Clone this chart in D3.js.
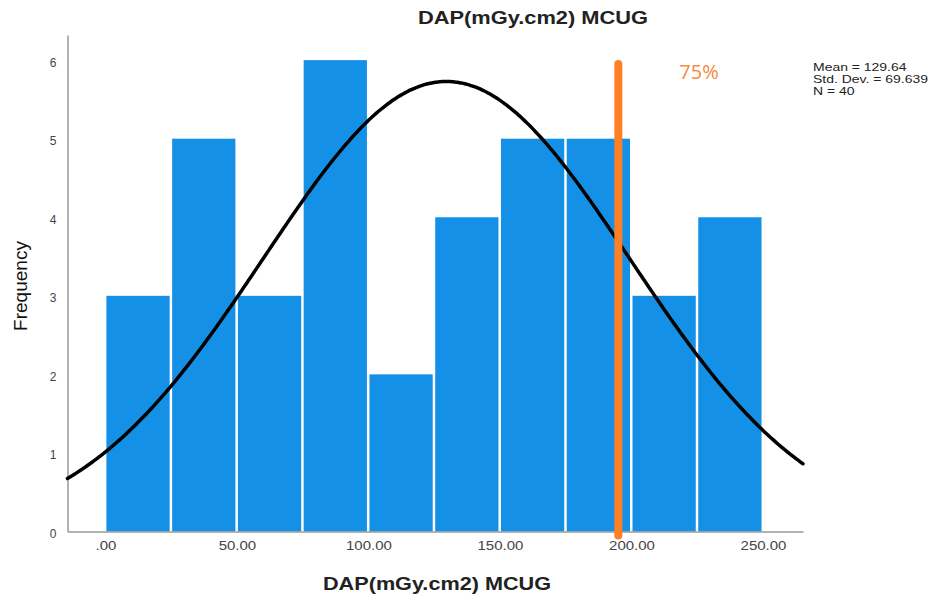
<!DOCTYPE html>
<html><head><meta charset="utf-8">
<script src="https://cdn.jsdelivr.net/npm/d3@7"></script>
<style>
body{margin:0;background:#fff;}
text{font-family:"Liberation Sans",Arial,sans-serif;}
</style></head>
<body>
<svg id="chart" width="937" height="596"></svg>
<script>
const binStarts = [0,25,50,75,100,125,150,175,200,225];
const binWidth = 25;
const counts = [3,5,3,6,2,4,5,5,3,4];
const xTicks = [0,50,100,150,200,250];
const xTickLabels = [".00","50.00","100.00","150.00","200.00","250.00"];
const yTicks = [0,1,2,3,4,5,6];
const stats = {mean:129.64, sd:69.639, n:40};
const statLines = ["Mean = 129.64","Std. Dev. = 69.639","N = 40"];
const p75 = 195;
const p75Label = "75%";
const title = "DAP(mGy.cm2) MCUG";
const xLabel = "DAP(mGy.cm2) MCUG";
const yLabel = "Frequency";

const svg = d3.select("#chart");
const x = d3.scaleLinear().domain([-14.4,265.2]).range([67.5,803]);
const y = d3.scaleLinear().domain([0,6.32]).range([531.5,35]);

function stretch(sel, f){
  sel.each(function(){
    const w = this.getComputedTextLength();
    d3.select(this).attr("textLength", w*f).attr("lengthAdjust","spacingAndGlyphs");
  });
}

// bars
svg.append("g").selectAll("rect").data(binStarts).join("rect")
  .attr("x", (d)=>x(d)+1)
  .attr("width", (d)=>x(d+binWidth)-x(d)-2.5)
  .attr("y", (d,i)=>y(counts[i]))
  .attr("height", (d,i)=>y(0)-y(counts[i]))
  .attr("fill","#1490e6");

// axes
const xAxis = svg.append("g").attr("transform",`translate(0,${y(0)})`)
  .call(d3.axisBottom(x).tickValues(xTicks).tickFormat((d,i)=>xTickLabels[i]).tickSize(0).tickPadding(10));
xAxis.select(".domain").attr("stroke","#999").attr("stroke-width",1.5);
xAxis.selectAll("text").attr("font-size",12.5).attr("fill","#444").call(stretch,1.2);

const yAxis = svg.append("g").attr("transform",`translate(${x.range()[0]},0)`)
  .call(d3.axisLeft(y).tickValues(yTicks).tickFormat(d3.format("d")).tickSize(0).tickPadding(11));
yAxis.select(".domain").attr("stroke","#999").attr("stroke-width",1.5);
yAxis.selectAll("text").attr("font-size",12).attr("fill","#444").attr("dy","0.5em");

// normal curve
const pdf = v => stats.n*binWidth/(stats.sd*Math.sqrt(2*Math.PI))*Math.exp(-0.5*((v-stats.mean)/stats.sd)**2);
const xs = d3.range(x.domain()[0], x.domain()[1]+0.01, (x.domain()[1]-x.domain()[0])/300);
svg.append("path").datum(xs)
  .attr("d", d3.line().x(d=>x(d)).y(d=>y(pdf(d))).curve(d3.curveBasis))
  .attr("fill","none").attr("stroke","#000").attr("stroke-width",3.5).attr("stroke-linecap","round");

// 75% line
svg.append("line").attr("x1",x(p75)).attr("x2",x(p75)).attr("y1",y(5.95)).attr("y2",y(-0.05))
  .attr("stroke","#ff7f27").attr("stroke-width",8).attr("stroke-linecap","round");
svg.append("text").attr("x",x(p75)+61).attr("y",79).attr("font-size",20)
  .style("font-family","'Open Sans','DejaVu Sans',sans-serif").attr("fill","#f7883f").text(p75Label);

// title and axis labels
svg.append("text").attr("x",533).attr("y",24).attr("text-anchor","middle")
  .attr("font-size",18).attr("font-weight","bold").attr("fill","#222").text(title)
  .call(function(s){ s.attr("textLength",230).attr("lengthAdjust","spacingAndGlyphs"); });
svg.append("text").attr("x",437).attr("y",590).attr("text-anchor","middle")
  .attr("font-size",18).attr("font-weight","bold").attr("fill","#222").text(xLabel)
  .call(function(s){ s.attr("textLength",228).attr("lengthAdjust","spacingAndGlyphs"); });
svg.append("text").attr("transform","translate(27,286) rotate(-90)").attr("text-anchor","middle")
  .attr("font-size",19).attr("fill","#111").text(yLabel);

// stats
svg.append("g").attr("transform","translate(813,0) scale(1.27,1)")
  .selectAll("text").data(statLines).join("text")
  .attr("x",0).attr("y",(d,i)=>71+i*12).attr("font-size",11).attr("fill","#222").text(d=>d);
</script>
</body></html>
